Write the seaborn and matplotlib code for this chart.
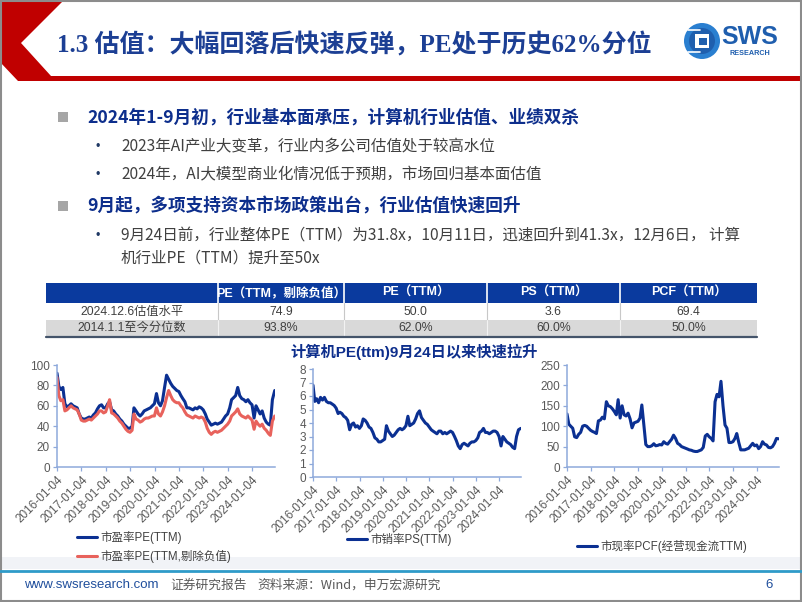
import numpy as np
import pandas as pd
import matplotlib
matplotlib.use('Agg')
import matplotlib.pyplot as plt
import seaborn as sns
from matplotlib.patches import Polygon, Rectangle, Circle

# ---------------- data (monthly readings, 2016-01 .. 2024-12) ----------------
pe_ttm = [92, 79, 76, 78, 62, 59, 60, 62, 60, 59, 58, 52,
          48, 47, 47, 48, 49, 48, 51, 53, 57, 60, 61, 58,
          58, 62, 64, 56, 55, 52, 50, 47, 45, 42, 40, 38,
          38, 40, 58, 55, 52, 50, 52, 55, 56, 57, 58, 60,
          62, 72, 63, 60, 65, 78, 90, 86, 82, 79, 77, 75,
          74, 70, 67, 64, 58, 58, 57, 56, 58, 57, 59, 58,
          56, 52, 47, 44, 41, 42, 43, 42, 43, 44, 47, 50,
          52, 58, 66, 68, 70, 78, 70, 67, 66, 64, 66, 63,
          61, 48, 60, 56, 52, 55, 48, 44, 42, 41, 66, 75]
pe_ex = [88, 70, 65, 66, 55, 56, 58, 60, 58, 57, 56, 52,
         46, 45, 45, 46, 47, 46, 48, 50, 52, 55, 55, 53,
         54, 60, 66, 53, 52, 50, 48, 45, 43, 40, 37, 35,
         34, 36, 52, 47, 46, 44, 45, 47, 48, 48, 49, 50,
         50, 58, 52, 50, 54, 60, 68, 75, 70, 66, 64, 63,
         63, 60, 58, 54, 51, 50, 49, 48, 50, 49, 48, 49,
         48, 44, 38, 34, 32, 34, 35, 34, 35, 36, 38, 40,
         42, 45, 50, 52, 54, 57, 52, 50, 49, 48, 50, 48,
         46, 37, 45, 42, 40, 42, 38, 36, 33, 31, 45, 50]
ps_ttm = [6.8, 5.6, 5.8, 5.5, 5.9, 5.7, 5.9, 5.6, 5.5, 5.5, 5.4, 5.3,
          5.1, 4.7, 4.8, 4.7, 4.5, 4.4, 4.2, 3.5, 3.9, 4.0, 3.7, 3.8,
          3.6, 3.8, 4.3, 4.2, 4.0, 3.7, 3.6, 3.3, 2.9, 2.8, 2.6, 2.6,
          2.7, 2.8, 3.8, 3.4, 3.2, 3.0, 3.1, 3.3, 3.5, 3.6, 3.5, 3.6,
          3.8, 4.5, 3.8, 3.9, 4.0, 4.3, 4.7, 4.9, 4.4, 4.2, 4.0, 3.9,
          3.7, 3.5, 3.4, 3.3, 3.2, 3.4, 3.4, 3.2, 3.3, 3.2, 3.3, 3.4,
          3.3, 3.0, 2.7, 2.3, 2.1, 2.4, 2.5, 2.4, 2.3, 2.5, 2.6, 2.6,
          2.7, 2.9, 3.3, 3.4, 3.6, 3.3, 3.3, 3.2, 3.3, 3.4, 3.4, 3.3,
          3.0, 2.3, 3.0, 2.8, 2.6, 2.5, 2.4, 2.2, 2.1, 3.0, 3.5, 3.6]
pcf_ttm = [130, 105, 100, 95, 74, 72, 80, 85, 100, 102, 100, 95,
           90, 87, 85, 82, 113, 115, 122, 118, 160, 150, 148, 143,
           136, 128, 165, 120, 150, 128, 125, 132, 118, 96, 108, 110,
           112, 120, 152, 103, 55, 50, 50, 52, 57, 52, 53, 55,
           54, 62, 58, 56, 62, 68, 78, 70, 58, 55, 50, 48,
           46, 44, 42, 41, 39, 38, 38, 40, 42, 48, 76, 80,
           74, 70, 64, 160, 178, 172, 210, 150, 103, 95, 60, 60,
           62, 70, 82, 60, 42, 42, 42, 44, 46, 52, 58, 52,
           54, 45, 50, 62, 56, 54, 48, 47, 50, 58, 70, 69]

tick_years = list(range(2016, 2025))
tick_labels = [f'{y}-01-04' for y in tick_years]

table_header = ['', 'PE（TTM，剔除负值）', 'PE（TTM）', 'PS（TTM）', 'PCF（TTM）']
row_labels = ['2024.12.6估值水平', '2014.1.1至今分位数']
level_vals = ['74.9', '50.0', '3.6', '69.4']
pct_vals = ['93.8%', '62.0%', '60.0%', '50.0%']

# ---------------- style ----------------
sns.set_theme(style='white')
plt.rcParams['font.family'] = ['Liberation Sans', 'Noto Sans CJK SC', 'DejaVu Sans']
plt.rcParams['axes.unicode_minus'] = False
CJK = ['Noto Sans CJK SC', 'DejaVu Sans']

W, H = 802, 602
BLUE = '#0b3092'
RED = '#e8625c'
AXC = '#8ea9db'
TXT = '#404040'
NAVY = '#0d2e8c'

fig = plt.figure(figsize=(8.02, 6.02), dpi=100)
bg = fig.add_axes([0, 0, 1, 1], zorder=0)
bg.set_xlim(0, W)
bg.set_ylim(H, 0)
bg.axis('off')

# header decoration
bg.add_patch(Polygon([(0, 0), (64, 0), (21, 43), (51, 76), (802, 76), (802, 81),
                      (18, 81), (0, 62)], closed=True, color='#c00000', lw=0))
bg.text(57, 45, '1.3 估值：大幅回落后快速反弹，PE处于历史62%分位', fontsize=18,
        family=['Liberation Serif', 'Noto Sans CJK SC'], weight='bold',
        color='#1c3f94', va='center', ha='left')
# logo
bg.add_patch(Circle((702, 41), 18, color='#2a7fd0', lw=0))
bg.add_patch(Circle((702, 41), 13, color='#1f5fae', lw=0))
bg.add_patch(Rectangle((695, 34), 14, 14, color='white', lw=0))
bg.add_patch(Rectangle((699, 38), 8, 7, color='#1f5fae', lw=0))
for yy in (30, 52):
    bg.plot([688, 700], [yy, yy], color='white', lw=1.2)
bg.text(721, 37, 'SWS', fontsize=18, weight='bold', color='#1f5eae',
        family='Liberation Sans', va='center', ha='left')
bg.text(729, 53.5, 'RESEARCH', fontsize=5.2, weight='bold', color='#1f5eae',
        family='Liberation Sans', va='center', ha='left')

# bullets
for yb in (117, 206):
    bg.add_patch(Rectangle((57.5, yb - 5), 10, 10, color='#a6a6a6', lw=0))
bg.text(87, 117, '2024年1-9月初，行业基本面承压，计算机行业估值、业绩双杀', fontsize=12.7,
        weight='bold', color=NAVY, family=CJK, va='center')
bg.text(87, 206, '9月起，多项支持资本市场政策出台，行业估值快速回升', fontsize=12.7,
        weight='bold', color=NAVY, family=CJK, va='center')
subs = [(147, '2023年AI产业大变革，行业内多公司估值处于较高水位'),
        (175, '2024年，AI大模型商业化情况低于预期，市场回归基本面估值'),
        (236, '9月24日前，行业整体PE（TTM）为31.8x，10月11日，迅速回升到41.3x，12月6日， 计算')]
for yb, s in subs:
    bg.text(98, yb, '•', fontsize=9, color='#1f3864', va='center', ha='center')
    bg.text(121, yb, s, fontsize=11.2, color=TXT, family=CJK, va='center')
bg.text(121, 258, '机行业PE（TTM）提升至50x', fontsize=11.2, color=TXT, family=CJK, va='center')

# table
xe = [46, 218, 344, 487, 620, 757]
bg.add_patch(Rectangle((46, 283), 711, 20, color='#0a3a9e', lw=0))
bg.add_patch(Rectangle((46, 320), 711, 16, color='#d9d9d9', lw=0))
for x in xe[1:-1]:
    bg.plot([x, x], [283, 303], color='white', lw=1.2)
    bg.plot([x, x], [303, 320], color='#c8c8c8', lw=0.8)
    bg.plot([x, x], [320, 336], color='#f2f2f2', lw=0.8)
bg.plot([46, 757], [336.5, 336.5], color='#44546a', lw=1.6)
for i in range(1, 5):
    cx = (xe[i] + xe[i + 1]) / 2
    bg.text(cx, 293, table_header[i], fontsize=9, weight='bold', color='white',
            ha='center', va='center')
    bg.text(cx, 312, level_vals[i - 1], fontsize=8.8, color=TXT, ha='center', va='center')
    bg.text(cx, 328, pct_vals[i - 1], fontsize=8.8, color=TXT, ha='center', va='center')
bg.text((xe[0] + xe[1]) / 2, 312, row_labels[0], fontsize=8.8, color=TXT, ha='center', va='center')
bg.text((xe[0] + xe[1]) / 2, 328, row_labels[1], fontsize=8.8, color=TXT, ha='center', va='center')

bg.text(414, 352, '计算机PE(ttm)9月24日以来快速拉升', fontsize=11, weight='bold',
        color=NAVY, family=['Liberation Sans', 'Noto Sans CJK SC'], ha='center', va='center')

# footer
bg.add_patch(Rectangle((1, 557), 800, 12, color='#f1f3f7', lw=0))
bg.plot([0, 802], [571, 571], color='#2f9bc9', lw=2)
bg.text(24, 585, 'www.swsresearch.com', fontsize=9.5, color='#1f4e9c', va='center')
bg.text(170, 585, '证券研究报告', fontsize=9.2, color='#595959', family=CJK, va='center')
bg.text(257, 585, '资料来源：Wind，申万宏源研究', fontsize=9.2, color='#595959', family=CJK, va='center')
bg.text(765, 585, '6', fontsize=9.5, color='#1f4e9c', va='center')
bg.add_patch(Rectangle((0.8, 0.8), 800.4, 600.4, fill=False, edgecolor='#8c8c8c', lw=1.5))

# ---------------- charts ----------------
dates = pd.date_range('2016-01-01', '2024-12-01', freq='MS')
dates = dates.where(dates != pd.Timestamp('2016-01-01'), pd.Timestamp('2016-01-04'))
dates = dates.where(dates != pd.Timestamp('2024-12-01'), pd.Timestamp('2024-12-06'))
xmin, xmax = pd.Timestamp('2016-01-04'), pd.Timestamp('2024-12-10')
ticks = pd.to_datetime(tick_labels)


def make_ax(left, top, right, bottom):
    return fig.add_axes([left / W, 1 - bottom / H, (right - left) / W, (bottom - top) / H], zorder=2)


def style_ax(ax, ymax, step):
    ax.set_xlim(xmin, xmax)
    ax.set_ylim(0, ymax)
    ax.set_yticks(np.arange(0, ymax + step / 2, step))
    ax.set_xticks(ticks)
    ax.set_xticklabels(tick_labels)
    ax.set_facecolor('none')
    for s in ('top', 'right'):
        ax.spines[s].set_visible(False)
    for s in ('left', 'bottom'):
        ax.spines[s].set_color(AXC)
        ax.spines[s].set_linewidth(1.1)
    ax.tick_params(axis='both', which='both', direction='out', length=3, width=0.9,
                   color=AXC, labelcolor='#595959', labelsize=8.5, pad=2,
                   bottom=True, left=True)
    plt.setp(ax.get_xticklabels(), rotation=45, ha='right', rotation_mode='anchor')
    ax.set_xlabel('')
    ax.set_ylabel('')
    ax.grid(False)


def place_legend(ax, x, y):
    h, l = ax.get_legend_handles_labels()
    for hh in h:
        hh.set_linewidth(2.2)
    ax.legend(h, l, loc='upper left', bbox_to_anchor=(x / W, 1 - y / H),
              bbox_transform=fig.transFigure, frameon=False, fontsize=8.3,
              handlelength=1.75, handletextpad=0.3, borderpad=0, borderaxespad=0,
              labelspacing=0.55, labelcolor=TXT)


# chart 1
ax1 = make_ax(57, 365, 275, 467)
df1 = pd.DataFrame({'date': dates, '市盈率PE(TTM)': pe_ttm,
                    '市盈率PE(TTM,剔除负值)': pe_ex}).melt('date', var_name='series', value_name='value')
sns.lineplot(data=df1, x='date', y='value', hue='series', palette=[BLUE, RED],
             linewidth=2.2, ax=ax1)
style_ax(ax1, 100, 20)
place_legend(ax1, 77, 531)

# chart 2
ax2 = make_ax(313, 369, 521, 477)
df2 = pd.DataFrame({'date': dates, 'value': ps_ttm, 'series': '市销率PS(TTM)'})
sns.lineplot(data=df2, x='date', y='value', hue='series', palette=[BLUE], linewidth=2.2, ax=ax2)
style_ax(ax2, 8, 1)
place_legend(ax2, 347, 533)

# chart 3
ax3 = make_ax(567, 365, 779, 467)
df3 = pd.DataFrame({'date': dates, 'value': pcf_ttm, 'series': '市现率PCF(经营现金流TTM)'})
sns.lineplot(data=df3, x='date', y='value', hue='series', palette=[BLUE], linewidth=2.2, ax=ax3)
style_ax(ax3, 250, 50)
place_legend(ax3, 577, 540)

fig.savefig('out.png', dpi=100)
